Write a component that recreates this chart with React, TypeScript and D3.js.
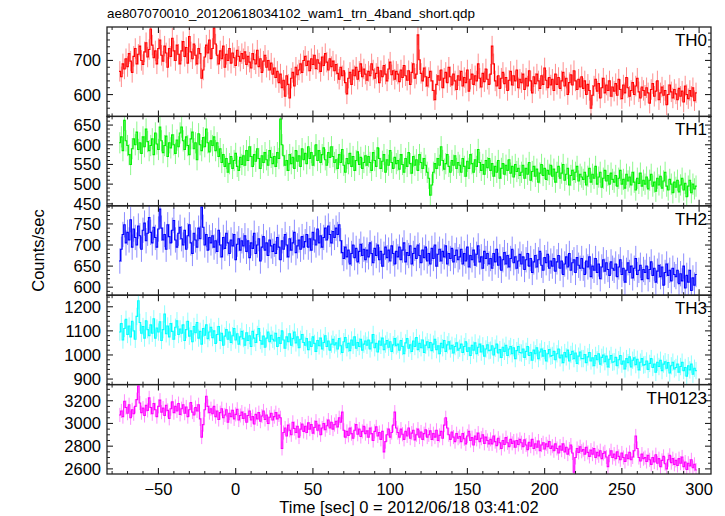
import React from "react";
import * as d3 from "d3";

// ---- data (1-s bins, bin centers: t = -75 + i seconds) ----
const T_START = -75;
const BIN_WIDTH = 1;

const th0 = [
  668, 652, 690, 675, 705, 682, 720, 698, 665, 712, 735, 690, 718, 742, 700, 688, 725, 752, 710, 732,
  792, 745, 708, 728, 690, 735, 760, 715, 698, 742, 722, 680, 735, 712, 765, 728, 700, 745, 718, 690,
  728, 755, 712, 738, 692, 770, 725, 705, 748, 715, 690, 735, 720, 648, 672, 710, 745, 722, 760, 705,
  735, 795, 748, 715, 690, 728, 705, 742, 680, 718, 700, 735, 692, 722, 708, 685, 730, 712, 698, 720,
  705, 725, 688, 712, 695, 678, 720, 702, 690, 730, 682, 705, 665, 698, 715, 680, 700, 672, 692, 660,
  678, 650, 668, 635, 660, 620, 642, 595, 655, 630, 590, 648, 665, 625, 680, 658, 672, 690, 665, 700,
  712, 685, 698, 670, 705, 688, 715, 676, 702, 692, 668, 710, 685, 720, 695, 672, 705, 682, 698, 670,
  688, 662, 645, 680, 655, 670, 635, 602, 648, 665, 630, 672, 655, 680, 645, 668, 690, 652, 675, 660,
  642, 668, 655, 690, 672, 648, 662, 680, 635, 670, 652, 685, 660, 640, 675, 695, 658, 670, 645, 668,
  660, 638, 672, 650, 685, 655, 642, 670, 630, 665, 690, 648, 660, 775, 702, 662, 640, 678, 652, 625,
  650, 668, 640, 612, 585, 630, 655, 642, 672, 620, 648, 665, 635, 680, 652, 628, 660, 640, 615, 655,
  642, 668, 625, 650, 635, 672, 610, 645, 660, 630, 655, 640, 690, 648, 622, 662, 638, 675, 645, 630,
  660, 742, 690, 640, 625, 655, 618, 648, 665, 632, 650, 612, 642, 668, 628, 655, 640, 672, 620, 645,
  635, 660, 615, 648, 625, 670, 640, 605, 652, 632, 660, 640, 618, 655, 630, 678, 642, 620, 650, 628,
  645, 612, 660, 630, 650, 618, 640, 665, 625, 648, 600, 635, 658, 628, 670, 640, 615, 645, 622, 652,
  618, 640, 600, 630, 612, 560, 598, 625, 645, 610, 632, 590, 620, 648, 605, 628, 612, 640, 595, 622,
  610, 632, 598, 645, 615, 588, 628, 605, 650, 620, 595, 612, 635, 600, 625, 648, 608, 590, 622, 612,
  598, 620, 605, 575, 615, 632, 595, 610, 640, 585, 605, 622, 598, 612, 570, 600, 628, 608, 590, 615,
  602, 585, 618, 595, 610, 578, 625, 600, 588, 612, 595, 620, 582, 605,
];

const th1 = [
  605, 620, 585, 662, 610, 598, 575, 550, 590, 615, 600, 632, 588, 605, 578, 620, 595, 640, 608, 585,
  598, 615, 575, 630, 602, 588, 645, 610, 580, 598, 622, 570, 605, 592, 625, 600, 578, 612, 595, 630,
  645, 610, 588, 620, 598, 575, 615, 632, 590, 605, 562, 628, 600, 585, 618, 595, 640, 605, 582, 610,
  598, 620, 585, 605, 570, 590, 555, 575, 545, 565, 530, 552, 570, 540, 560, 578, 545, 535, 568, 550,
  572, 548, 585, 560, 595, 570, 545, 575, 558, 590, 565, 540, 572, 555, 580, 562, 548, 585, 568, 552,
  570, 545, 580, 565, 665, 600, 572, 548, 560, 535, 575, 552, 568, 540, 585, 558, 572, 545, 590, 562,
  578, 552, 595, 565, 580, 548, 572, 600, 560, 585, 555, 575, 592, 562, 548, 580, 568, 595, 570, 555,
  562, 540, 575, 555, 588, 548, 530, 565, 552, 578, 545, 570, 535, 560, 582, 550, 568, 540, 555, 572,
  548, 570, 555, 535, 580, 560, 545, 592, 565, 540, 558, 575, 530, 562, 548, 585, 555, 540, 568, 552,
  560, 538, 575, 550, 530, 565, 545, 580, 552, 528, 570, 548, 562, 535, 575, 555, 540, 565, 548, 530,
  515, 472, 498, 530, 552, 540, 565, 548, 595, 560, 538, 552, 575, 545, 530, 560, 548, 572, 540, 555,
  548, 530, 565, 545, 520, 558, 540, 575, 552, 530, 562, 545, 588, 555, 535, 550, 525, 560, 542, 565,
  535, 552, 520, 545, 530, 560, 515, 540, 552, 525, 548, 535, 562, 528, 545, 518, 550, 532, 540, 522,
  530, 548, 515, 540, 525, 555, 510, 532, 545, 520, 538, 505, 528, 550, 522, 540, 512, 535, 525, 548,
  520, 538, 505, 530, 545, 515, 528, 550, 510, 525, 540, 498, 522, 535, 512, 530, 545, 508, 525, 518,
  512, 530, 498, 520, 540, 505, 525, 515, 545, 500, 518, 530, 492, 515, 535, 508, 522, 500, 528, 512,
  505, 522, 495, 515, 535, 500, 512, 490, 525, 508, 518, 498, 530, 505, 485, 515, 502, 528, 495, 510,
  500, 518, 488, 510, 525, 495, 505, 482, 515, 498, 520, 490, 508, 530, 495, 485, 512, 500, 478, 505,
  492, 510, 480, 498, 515, 485, 502, 468, 495, 510, 478, 500, 488, 495,
];

const th2 = [
  662, 690, 725, 748, 705, 730, 712, 760, 695, 738, 718, 700, 745, 722, 690, 735, 752, 710, 728, 765,
  730, 705, 742, 718, 695, 738, 785, 740, 712, 725, 690, 748, 720, 705, 735, 758, 712, 695, 728, 742,
  715, 700, 735, 690, 722, 748, 705, 680, 728, 712, 695, 740, 715, 790, 742, 700, 725, 688, 718, 705,
  722, 695, 710, 685, 735, 700, 672, 718, 692, 728, 705, 680, 712, 698, 725, 665, 702, 715, 688, 710,
  698, 722, 685, 710, 670, 705, 692, 728, 680, 700, 715, 662, 695, 720, 688, 705, 675, 712, 698, 685,
  702, 680, 718, 695, 665, 710, 690, 725, 700, 672, 715, 688, 705, 730, 682, 698, 712, 690, 720, 695,
  708, 725, 695, 715, 688, 730, 712, 700, 738, 705, 722, 695, 718, 740, 712, 745, 725, 705, 732, 718,
  740, 725, 748, 710, 682, 668, 695, 672, 688, 655, 680, 700, 670, 692, 660, 685, 702, 675, 690, 665,
  688, 672, 705, 680, 658, 692, 675, 700, 665, 685, 650, 678, 695, 670, 688, 662, 698, 680, 655, 685,
  672, 695, 665, 688, 705, 660, 682, 675, 698, 655, 680, 692, 668, 700, 675, 658, 688, 670, 695, 662,
  680, 655, 692, 668, 700, 650, 678, 690, 662, 685, 672, 698, 655, 680, 668, 692, 660, 675, 688, 665,
  672, 690, 655, 680, 662, 695, 648, 675, 665, 688, 652, 678, 698, 660, 672, 645, 685, 668, 680, 655,
  668, 645, 680, 660, 690, 652, 672, 640, 665, 682, 655, 675, 648, 668, 690, 658, 672, 645, 662, 678,
  655, 672, 642, 665, 680, 650, 668, 635, 660, 675, 648, 665, 685, 652, 640, 670, 658, 678, 645, 662,
  650, 668, 638, 660, 675, 645, 662, 630, 655, 672, 648, 680, 640, 658, 665, 635, 670, 652, 645, 668,
  645, 630, 662, 648, 672, 625, 650, 640, 668, 635, 655, 620, 648, 665, 638, 658, 642, 628, 660, 645,
  640, 655, 625, 648, 665, 630, 645, 612, 640, 658, 635, 650, 622, 645, 668, 630, 640, 652, 618, 642,
  635, 650, 620, 642, 660, 628, 645, 612, 638, 652, 625, 648, 605, 635, 655, 628, 640, 615, 645, 630,
  625, 640, 608, 632, 615, 650, 598, 628, 612, 640, 592, 622, 605, 630,
];

const th3 = [
  1095, 1130, 1062, 1110, 1148, 1085, 1120, 1075, 1140, 1100, 1065, 1160, 1225, 1135, 1090, 1118, 1070, 1142, 1105, 1080,
  1125, 1090, 1150, 1070, 1112, 1095, 1138, 1060, 1105, 1170, 1088, 1120, 1075, 1130, 1098, 1065, 1115, 1142, 1085, 1108,
  1090, 1125, 1060, 1105, 1140, 1078, 1100, 1055, 1118, 1092, 1135, 1070, 1098, 1045, 1110, 1082, 1125, 1068, 1095, 1115,
  1072, 1100, 1048, 1085, 1118, 1060, 1090, 1040, 1078, 1105, 1065, 1095, 1052, 1080, 1110, 1062, 1088, 1045, 1075, 1098,
  1068, 1040, 1092, 1060, 1080, 1035, 1098, 1070, 1052, 1085, 1110, 1060, 1045, 1078, 1032, 1070, 1095, 1055, 1082, 1065,
  1058, 1090, 1035, 1072, 1048, 1100, 1062, 1028, 1075, 1055, 1088, 1040, 1068, 1095, 1050, 1075, 1030, 1065, 1085, 1052,
  1040, 1068, 1022, 1055, 1035, 1075, 1048, 1015, 1060, 1038, 1070, 1025, 1052, 1080, 1035, 1058, 1020, 1045, 1065, 1042,
  1050, 1025, 1068, 1038, 1010, 1055, 1072, 1030, 1048, 1018, 1062, 1040, 1075, 1028, 1052, 1035, 1065, 1020, 1045, 1058,
  1040, 1062, 1025, 1050, 1085, 1030, 1048, 1012, 1058, 1040, 1070, 1022, 1045, 1060, 1032, 1055, 1015, 1042, 1068, 1038,
  1045, 1020, 1060, 1035, 1005, 1050, 1068, 1028, 1042, 1015, 1058, 1035, 1072, 1022, 1048, 1030, 1062, 1010, 1040, 1055,
  1030, 1052, 1018, 1045, 1065, 1022, 1038, 1005, 1048, 1030, 1060, 1015, 1042, 1055, 1025, 1040, 1008, 1035, 1050, 1020,
  1028, 1045, 1010, 1035, 1055, 1015, 1030, 998, 1040, 1020, 1050, 1005, 1032, 1045, 1012, 1038, 995, 1025, 1042, 1018,
  1020, 1038, 1000, 1028, 1045, 1008, 1022, 990, 1032, 1015, 1040, 998, 1025, 1035, 1005, 1030, 985, 1018, 1035, 1010,
  1008, 1025, 990, 1015, 1035, 998, 1010, 978, 1020, 1005, 1030, 985, 1012, 1025, 995, 1018, 975, 1005, 1022, 995,
  998, 1015, 980, 1005, 1025, 988, 1000, 968, 1010, 992, 1020, 975, 1002, 1015, 985, 1008, 965, 995, 1012, 985,
  985, 1002, 968, 992, 1010, 975, 988, 955, 998, 980, 1005, 962, 990, 1000, 972, 995, 950, 982, 998, 970,
  972, 990, 955, 980, 998, 962, 975, 942, 985, 968, 992, 950, 978, 988, 960, 982, 938, 970, 985, 958,
  960, 975, 940, 965, 985, 948, 962, 928, 970, 952, 978, 935, 962, 972, 945, 968, 925, 955, 970, 942,
  948, 962, 928, 952, 970, 935, 948, 912, 955, 938, 962, 920, 945, 935,
];

const th0123 = [
  3075, 3110, 3060, 3195, 3140, 3090, 3165, 3050, 3120, 3085, 3150, 3210, 3330, 3180, 3095, 3135, 3070, 3160, 3115, 3225,
  3140, 3085, 3175, 3120, 3060, 3150, 3205, 3100, 3135, 3070, 3160, 3115, 3045, 3130, 3190, 3095, 3150, 3110, 3175, 3080,
  3130, 3165, 3090, 3145, 3060, 3120, 3185, 3100, 3075, 3140, 3110, 3165, 3040, 2880, 2990, 3120, 3240, 3150, 3095, 3130,
  3085, 3150, 3060, 3110, 3035, 3095, 3130, 3050, 3075, 3120, 3010, 3090, 3060, 3115, 3040, 3080, 3125, 3030, 3070, 3100,
  3045, 3085, 3010, 3070, 3110, 3030, 3060, 2995, 3080, 3040, 3095, 3020, 3065, 3110, 3035, 3075, 3000, 3055, 3090, 3030,
  3060, 3095, 3040, 3075, 3050, 2780, 2920, 2960, 2890, 2985, 2940, 2900, 3010, 2955, 2920, 2975, 2880, 2950, 2995, 2930,
  2975, 2920, 3005, 2950, 2990, 2915, 2965, 3020, 2940, 2985, 2900, 2960, 3000, 2945, 2980, 3030, 2960, 3010, 2950, 2990,
  3020, 2970, 3050, 3010, 3100, 2940, 2880, 2930, 2895, 2960, 2910, 2870, 2940, 2990, 2905, 2950, 2885, 2930, 2975, 2910,
  2935, 2880, 2960, 2910, 2850, 2930, 2970, 2890, 2920, 2860, 2930, 2750, 2840, 2900, 2950, 2880, 2920, 2985, 3100, 2960,
  2920, 2880, 2950, 2905, 2860, 2930, 2890, 2960, 2870, 2915, 2940, 2855, 2900, 2950, 2880, 2925, 2860, 2910, 2945, 2880,
  2900, 2935, 2860, 2910, 2880, 2940, 2850, 2895, 2930, 2870, 2985, 3050, 2960, 2900, 2860, 2925, 2880, 2840, 2910, 2870,
  2885, 2840, 2910, 2865, 2820, 2890, 2930, 2850, 2875, 2810, 2890, 2860, 2915, 2840, 2870, 2900, 2825, 2880, 2850, 2820,
  2860, 2820, 2890, 2840, 2805, 2870, 2830, 2780, 2850, 2815, 2875, 2830, 2795, 2860, 2825, 2845, 2790, 2850, 2815, 2860,
  2830, 2795, 2855, 2810, 2770, 2835, 2800, 2860, 2780, 2820, 2790, 2845, 2760, 2810, 2830, 2775, 2820, 2795, 2840, 2780,
  2800, 2760, 2820, 2780, 2740, 2800, 2765, 2820, 2750, 2790, 2730, 2775, 2810, 2740, 2570, 2700, 2780, 2745, 2795, 2755,
  2770, 2730, 2790, 2745, 2710, 2765, 2730, 2780, 2700, 2745, 2715, 2760, 2690, 2735, 2750, 2705, 2620, 2720, 2760, 2700,
  2730, 2690, 2750, 2710, 2680, 2740, 2700, 2665, 2725, 2690, 2745, 2680, 2705, 2760, 2890, 2780, 2700, 2670, 2730, 2690,
  2700, 2665, 2720, 2680, 2640, 2700, 2660, 2725, 2650, 2690, 2620, 2675, 2710, 2645, 2600, 2680, 2720, 2655, 2690, 2640,
  2675, 2630, 2690, 2650, 2705, 2620, 2660, 2595, 2650, 2625, 2680, 2610, 2640, 2590,
];

const panelSeries = [th0, th1, th2, th3, th0123];
const panelNames = ["TH0", "TH1", "TH2", "TH3", "TH0123"];
const panelErrors = [30, 27, 30, 36, 62];
const panelDomains: [number, number][] = [
  [536, 798],
  [445, 672],
  [581, 793],
  [877, 1248],
  [2555, 3342],
];
const panelMajor = [100, 50, 50, 100, 200];
const panelMinor = [20, 10, 10, 20, 50];
const xDomain: [number, number] = [-83.3, 307.7];
const xMajorStep = 50;
const xMinorStep = 10;

const titleText = "ae807070010_20120618034102_wam1_trn_4band_short.qdp";
const xLabelText = "Time [sec] 0 = 2012/06/18 03:41:02";
const yLabelText = "Counts/sec";

// ---- styling / layout ----
const W = 725;
const H = 516;
const LEFT = 107;
const RIGHT = 711;
const TOP = 27;
const BOTTOM = 474;
const COLORS = ["#ff0000", "#00f000", "#0000ff", "#00ffff", "#ff00ff"];
const FONT = "'Liberation Sans', Arial, Helvetica, sans-serif";
const AXIS = "#222";

function ticksBetween(lo: number, hi: number, step: number) {
  const out: number[] = [];
  const start = Math.ceil(lo / step) * step;
  for (let v = start; v <= hi + 1e-9; v += step) out.push(+v.toFixed(6));
  return out;
}

export default function App() {
  const n = panelSeries.length;
  const ph = (BOTTOM - TOP) / n;
  const x = d3.scaleLinear().domain(xDomain).range([LEFT, RIGHT]);
  const xMajors = ticksBetween(xDomain[0], xDomain[1], xMajorStep);
  const xMinors = ticksBetween(xDomain[0], xDomain[1], xMinorStep).filter(
    (v) => Math.abs(v % xMajorStep) > 1e-6
  );

  return (
    <svg width={W} height={H} style={{ display: "block", position: "absolute", left: 0, top: 0, background: "#fff" }}>
      <defs>
        {panelSeries.map((_, p) => (
          <clipPath id={`clip${p}`} key={p}>
            <rect x={LEFT} y={TOP + p * ph} width={RIGHT - LEFT} height={ph} />
          </clipPath>
        ))}
      </defs>
      <text x={LEFT} y={18} fontFamily={FONT} fontSize={13.4} fill="#000">
        {titleText}
      </text>
      {panelSeries.map((series, p) => {
        const y0 = TOP + p * ph;
        const y1 = y0 + ph;
        const y = d3.scaleLinear().domain(panelDomains[p]).range([y1, y0]);
        const err = panelErrors[p];
        const pts = series.map((v, i) => [T_START + i * BIN_WIDTH, v] as [number, number]);
        const stepPts: [number, number][] = [];
        pts.forEach(([t, v]) => {
          stepPts.push([t - BIN_WIDTH / 2, v]);
          stepPts.push([t + BIN_WIDTH / 2, v]);
        });
        const line = d3
          .line<[number, number]>()
          .x((d) => x(d[0]))
          .y((d) => y(d[1]));
        const majors = ticksBetween(panelDomains[p][0], panelDomains[p][1], panelMajor[p]);
        const minors = ticksBetween(panelDomains[p][0], panelDomains[p][1], panelMinor[p]).filter(
          (v) => Math.abs(v % panelMajor[p]) > 1e-6
        );
        const color = COLORS[p];
        return (
          <g key={p}>
            <g clipPath={`url(#clip${p})`}>
              {pts.map(([t, v], i) => (
                <line
                  key={i}
                  x1={x(t)}
                  x2={x(t)}
                  y1={y(v - err)}
                  y2={y(v + err)}
                  stroke={color}
                  strokeOpacity={0.45}
                  strokeWidth={1}
                />
              ))}
              <path d={line(stepPts) || ""} fill="none" stroke={color} strokeWidth={1.1} />
            </g>
            <rect x={LEFT} y={y0} width={RIGHT - LEFT} height={ph} fill="none" stroke={AXIS} strokeWidth={1.3} />
            {majors.map((v) => (
              <g key={`M${v}`}>
                <line x1={LEFT} x2={LEFT + 6} y1={y(v)} y2={y(v)} stroke={AXIS} strokeWidth={1.1} />
                <line x1={RIGHT} x2={RIGHT - 6} y1={y(v)} y2={y(v)} stroke={AXIS} strokeWidth={1.1} />
                <text
                  x={LEFT - 6}
                  y={y(v) + 6}
                  textAnchor="end"
                  fontFamily={FONT}
                  fontSize={16.5}
                  fill="#000"
                >
                  {v}
                </text>
              </g>
            ))}
            {minors.map((v) => (
              <g key={`m${v}`}>
                <line x1={LEFT} x2={LEFT + 3} y1={y(v)} y2={y(v)} stroke={AXIS} strokeWidth={1} />
                <line x1={RIGHT} x2={RIGHT - 3} y1={y(v)} y2={y(v)} stroke={AXIS} strokeWidth={1} />
              </g>
            ))}
            {xMajors.map((t) => (
              <g key={`xM${t}`}>
                <line x1={x(t)} x2={x(t)} y1={y0} y2={y0 + 6} stroke={AXIS} strokeWidth={1.1} />
                <line x1={x(t)} x2={x(t)} y1={y1} y2={y1 - 6} stroke={AXIS} strokeWidth={1.1} />
              </g>
            ))}
            {xMinors.map((t) => (
              <g key={`xm${t}`}>
                <line x1={x(t)} x2={x(t)} y1={y0} y2={y0 + 3} stroke={AXIS} strokeWidth={1} />
                <line x1={x(t)} x2={x(t)} y1={y1} y2={y1 - 3} stroke={AXIS} strokeWidth={1} />
              </g>
            ))}
            <text
              x={RIGHT - 4}
              y={y0 + 19}
              textAnchor="end"
              fontFamily={FONT}
              fontSize={17}
              fill="#000"
            >
              {panelNames[p]}
            </text>
          </g>
        );
      })}
      {xMajors.map((t) => (
        <text
          key={`xl${t}`}
          x={x(t)}
          y={BOTTOM + 21}
          textAnchor="middle"
          fontFamily={FONT}
          fontSize={16.5}
          fill="#000"
        >
          {t < 0 ? `\u2212${Math.abs(t)}` : t}
        </text>
      ))}
      <text
        x={(LEFT + RIGHT) / 2}
        y={513}
        textAnchor="middle"
        fontFamily={FONT}
        fontSize={16.5}
        fill="#000"
      >
        {xLabelText}
      </text>
      <text
        transform={`translate(44, ${(TOP + BOTTOM) / 2}) rotate(-90)`}
        textAnchor="middle"
        fontFamily={FONT}
        fontSize={16.5}
        fill="#000"
      >
        {yLabelText}
      </text>
    </svg>
  );
}
